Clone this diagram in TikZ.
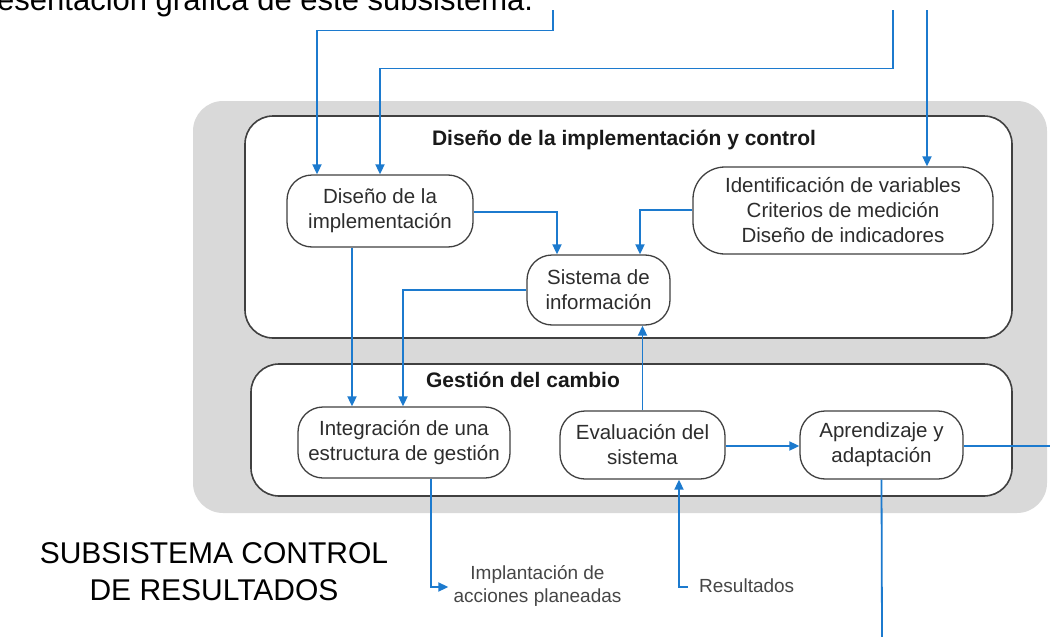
\documentclass[tikz,border=0pt]{standalone}
\usepackage{fontspec}
\setmainfont{Liberation Sans}
\usetikzlibrary{arrows.meta,calc}
\definecolor{bluel}{RGB}{28,122,206}
\definecolor{grayb}{RGB}{217,217,217}
\definecolor{edge}{RGB}{64,64,64}
\definecolor{txt}{RGB}{45,45,45}
\definecolor{lbl}{RGB}{70,70,70}
\begin{document}
\begin{tikzpicture}[x=1pt,y=-1pt,
  proc/.style={draw=edge,line width=1.3pt,fill=white,rounded corners=25pt,align=center,inner sep=0pt,text=txt,font=\fontsize{20.5}{25}\selectfont},
  grp/.style={draw=edge,line width=1.6pt,fill=white,rounded corners=28pt},
  ttl/.style={font=\bfseries\fontsize{21}{25}\selectfont,text=black!90,inner sep=0pt},
  small/.style={font=\fontsize{19}{22.5}\selectfont,text=lbl,align=center,inner sep=0pt},
  arr/.style={draw=bluel,line width=1.8pt,-{Triangle[length=10pt,width=9pt]}},
  lin/.style={draw=bluel,line width=1.8pt}]
\useasboundingbox (0,0) rectangle (1050,637);
% background panels
\fill[grayb,rounded corners=30pt] (193,101) rectangle (1047,513);
\draw[grp] (245,116) rectangle (1012,338);
\draw[grp] (251,364) rectangle (1012,496);
% titles
\node[ttl] (tup) at (624,140) {Diseño de la implementación y control};
\node[ttl] (tlo) at (523,380) {Gestión del cambio};
% process nodes
\node[proc,minimum width=186pt,minimum height=72pt] (n1) at (380,211) {Diseño de la\\implementación};
\node[proc,minimum width=143pt,minimum height=70pt] (n2) at (598.5,290) {Sistema de\\información};
\node[proc,minimum width=300pt,minimum height=87pt,rounded corners=32pt] (n3) at (843,210.5) {Identificación de variables\\Criterios de medición\\Diseño de indicadores};
\node[proc,minimum width=212pt,minimum height=71pt] (n4) at (404,442.5) {Integración de una\\estructura de gestión};
\node[proc,minimum width=165pt,minimum height=68pt] (n5) at (642.5,445) {Evaluación del\\sistema};
\node[proc,minimum width=163pt,minimum height=68pt] (n6) at (881.5,445) {Aprendizaje y\\adaptación};
% outside labels
\node[font=\fontsize{30}{37}\selectfont,align=center,inner sep=0pt] (big) at (214,572) {SUBSISTEMA CONTROL\\DE RESULTADOS};
\node[small] (imp) at (537.5,586) {Implantación de\\acciones planeadas};
\node[small,anchor=west] (res) at (699,585.5) {Resultados};
\node[font=\fontsize{31}{37}\selectfont,anchor=base west,inner sep=0pt] (top) at (-3,10) {esentación gráfica de este subsistema.};
% free ends
\coordinate (t1) at (553,10);
\coordinate (t2) at (893,10);
\coordinate (t3) at (927,10);
\coordinate (e8) at (1050,446);
\coordinate (e9) at (882,637);
% connectors
\draw[arr] (t1) -- ++(0,20.5) -| ([xshift=-63pt]n1.north);
\draw[arr] (t2) -- ++(0,58.5) -| (n1.north);
\draw[arr] (t3) -- (t3 |- n3.north);
\draw[arr] ([yshift=-1pt]n1.east) -| ([xshift=-41.5pt]n2.north);
\draw[arr] ([yshift=0.5pt]n3.west) -| ([xshift=41.5pt]n2.north);
\draw[arr] (n2.west) -| ([xshift=-1pt]n4.north);
\draw[arr] ([xshift=-28pt]n1.south) -- ([xshift=-28pt]n1.south |- n4.north);
\draw[arr] (n5.north) -- (n5.north |- n2.south);
\draw[arr] ([yshift=-1pt]n5.east) -- ([yshift=-1pt]n6.west);
\draw[lin] ([yshift=-1pt]n6.east) -- (e8);
\draw[lin] (n6.south) -- (e9);
\draw[arr] ([xshift=-11pt,yshift=-1.5pt]res.west) -| ([xshift=36.5pt]n5.south);
\draw[arr] ([xshift=27pt]n4.south) |- ([xshift=-5pt,yshift=-1pt]imp.west);
\end{tikzpicture}
\end{document}
